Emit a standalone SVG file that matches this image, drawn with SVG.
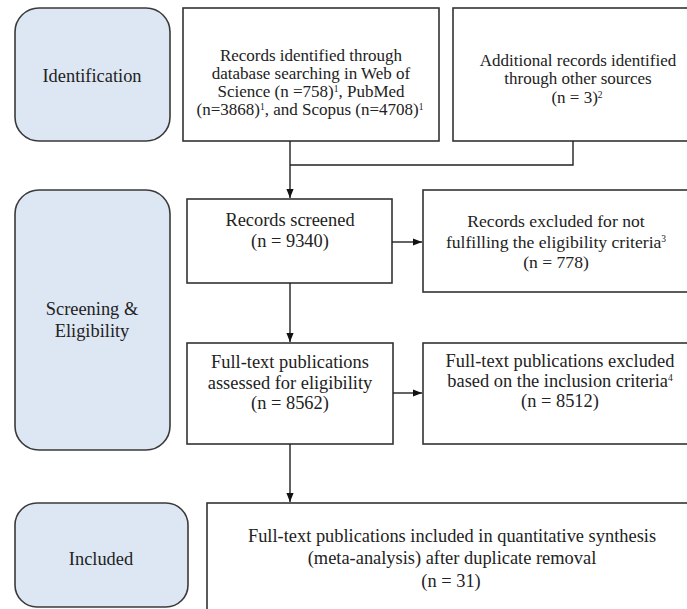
<svg xmlns="http://www.w3.org/2000/svg" width="687" height="609" viewBox="0 0 687 609">
<defs>
<style>
.stage{fill:#dde7f4;stroke:#3a3a3a;stroke-width:1.6}
.box{fill:#ffffff;stroke:#333333;stroke-width:1.6}
.t{font-family:'Liberation Serif','Times New Roman',Times,serif;font-size:18.4px;fill:#222222;text-anchor:middle}
.s17{font-size:17px}
.s176{font-size:17.6px}
.sup{font-size:9.5px}
.c{fill:none;stroke:#222222;stroke-width:1.4}
</style>
<marker id="ah" viewBox="0 0 10 10" refX="10" refY="5" markerWidth="9" markerHeight="9" markerUnits="userSpaceOnUse" orient="auto">
<path d="M0,1 L10,5 L0,9 Z" fill="#111111"/>
</marker>
</defs>
<rect width="687" height="609" fill="#ffffff"/>

<g id="stage-identification">
<rect class="stage" x="15" y="8" width="155" height="133" rx="24"/>
<text class="t" x="92" y="82">Identification</text>
</g>
<g id="stage-screening">
<rect class="stage" x="15" y="190" width="155" height="260" rx="24"/>
<text class="t" x="92" y="315">Screening &amp;</text>
<text class="t" x="92" y="337">Eligibility</text>
</g>
<g id="stage-included">
<rect class="stage" x="15" y="503" width="173" height="104" rx="22"/>
<text class="t" x="101" y="565">Included</text>
</g>

<g id="records-identified">
<rect class="box" x="183" y="8" width="256" height="133"/>
<text class="t s17" x="311" y="61">Records identified through</text>
<text class="t s17" x="311" y="79">database searching in Web of</text>
<text class="t s17" x="311" y="97">Science (n =758)<tspan class="sup" dy="-5">1</tspan><tspan dy="5">, PubMed</tspan></text>
<text class="t s17" x="310" y="115">(n=3868)<tspan class="sup" dy="-5">1</tspan><tspan dy="5">, and Scopus (n=4708)</tspan><tspan class="sup" dy="-5">1</tspan></text>
</g>
<g id="additional-records">
<rect class="box" x="453" y="8" width="240" height="133"/>
<text class="t s17" x="578" y="66">Additional records identified</text>
<text class="t s17" x="578" y="84">through other sources</text>
<text class="t s17" x="577" y="103">(n = 3)<tspan class="sup" dy="-5">2</tspan></text>
</g>
<g id="records-screened">
<rect class="box" x="187" y="199" width="205" height="84"/>
<text class="t" x="290" y="226">Records screened</text>
<text class="t" x="290" y="247">(n = 9340)</text>
</g>
<g id="records-excluded">
<rect class="box" x="423" y="190" width="270" height="102"/>
<text class="t s176" x="556" y="227">Records excluded for not</text>
<text class="t s176" x="556" y="248">fulfilling the eligibility criteria<tspan class="sup" dy="-6">3</tspan></text>
<text class="t s176" x="556" y="268">(n = 778)</text>
</g>
<g id="fulltext-assessed">
<rect class="box" x="187" y="343" width="206" height="101"/>
<text class="t" x="290" y="368">Full-text publications</text>
<text class="t" x="290" y="389">assessed for eligibility</text>
<text class="t" x="290" y="409">(n = 8562)</text>
</g>
<g id="fulltext-excluded">
<rect class="box" x="423" y="343" width="270" height="101"/>
<text class="t" x="560" y="367">Full-text publications excluded</text>
<text class="t" x="560" y="387">based on the inclusion criteria<tspan class="sup" dy="-6">4</tspan></text>
<text class="t" x="560" y="407">(n = 8512)</text>
</g>
<g id="included-final">
<rect class="box" x="207" y="503" width="490" height="120"/>
<text class="t" x="452" y="542">Full-text publications included in quantitative synthesis</text>
<text class="t" x="452" y="564">(meta-analysis) after duplicate removal</text>
<text class="t" x="451" y="587">(n = 31)</text>
</g>

<g id="connectors">
<path class="c" d="M290,141 V198" marker-end="url(#ah)"/>
<path class="c" d="M573,141 V165 H290"/>
<path class="c" d="M392,242 H422" marker-end="url(#ah)"/>
<path class="c" d="M290,283 V342" marker-end="url(#ah)"/>
<path class="c" d="M393,393 H422" marker-end="url(#ah)"/>
<path class="c" d="M290,444 V502" marker-end="url(#ah)"/>
</g>
</svg>
